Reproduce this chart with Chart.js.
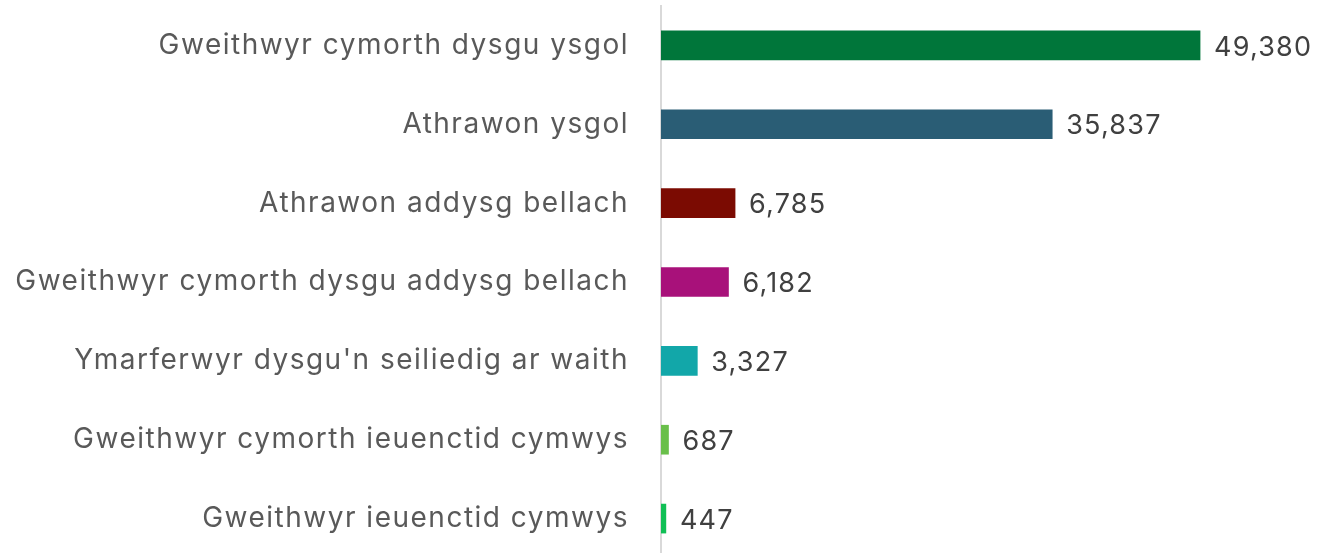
<!DOCTYPE html>
<html>
<head>
<meta charset="utf-8">
<script src="https://cdn.jsdelivr.net/npm/chart.js@4.4.0/dist/chart.umd.min.js"></script>
<style>
  html, body { margin: 0; padding: 0; background: #fff; overflow: hidden; }
  #wrap { width: 1324px; height: 560px; position: relative; }
</style>
</head>
<body>
<div id="wrap"><canvas id="chart"></canvas></div>
<script>
const categories = [
  'Gweithwyr cymorth dysgu ysgol',
  'Athrawon ysgol',
  'Athrawon addysg bellach',
  'Gweithwyr cymorth dysgu addysg bellach',
  "Ymarferwyr dysgu'n seiliedig ar waith",
  'Gweithwyr cymorth ieuenctid cymwys',
  'Gweithwyr ieuenctid cymwys'
];
const values = [49380, 35837, 6785, 6182, 3327, 687, 447];
const barColors = ['#00763A', '#2A5D75', '#7B0B02', '#A8117A', '#12A7A9', '#69BF4A', '#10BF55'];

const fontFamily = 'Inter, "Open Sans", sans-serif';

// wider tracking so Inter sits closer to the original's geometric font
const spacing = {
  id: 'spacing',
  beforeInit(chart) { chart.ctx.letterSpacing = '1.5px'; },
  beforeUpdate(chart) { chart.ctx.letterSpacing = '1.5px'; }
};

// draws the number just past the end of each bar
const valueLabels = {
  id: 'valueLabels',
  afterDatasetsDraw(chart) {
    const ctx = chart.ctx;
    const meta = chart.getDatasetMeta(0);
    ctx.save();
    ctx.letterSpacing = '1.2px';
    ctx.font = '27px ' + fontFamily;
    ctx.fillStyle = '#404040';
    ctx.textAlign = 'left';
    ctx.textBaseline = 'middle';
    meta.data.forEach((bar, i) => {
      ctx.fillText(values[i].toLocaleString('en-GB'), bar.x + 14, bar.y + 2);
    });
    ctx.restore();
  }
};

new Chart(document.getElementById('chart'), {
  type: 'bar',
  data: {
    labels: categories,
    datasets: [{
      data: values,
      backgroundColor: barColors,
      barThickness: 29
    }]
  },
  options: {
    indexAxis: 'y',
    responsive: true,
    maintainAspectRatio: false,
    animation: false,
    layout: { padding: { top: 6, bottom: 2, right: 8, left: 0 } },
    plugins: {
      legend: { display: false },
      tooltip: { enabled: false }
    },
    scales: {
      x: {
        display: false,
        min: 0,
        max: 60000
      },
      y: {
        afterFit(scale) {
          scale.width = 661;
          scale.paddingTop = 0;
          scale.paddingBottom = 0;
        },
        grid: { display: false, drawTicks: false },
        border: { display: true, color: '#D9D9D9', width: 2 },
        ticks: {
          padding: 32,
          color: '#595959',
          font: { family: fontFamily, size: 28 }
        }
      }
    }
  },
  plugins: [spacing, valueLabels]
});
</script>
</body>
</html>
